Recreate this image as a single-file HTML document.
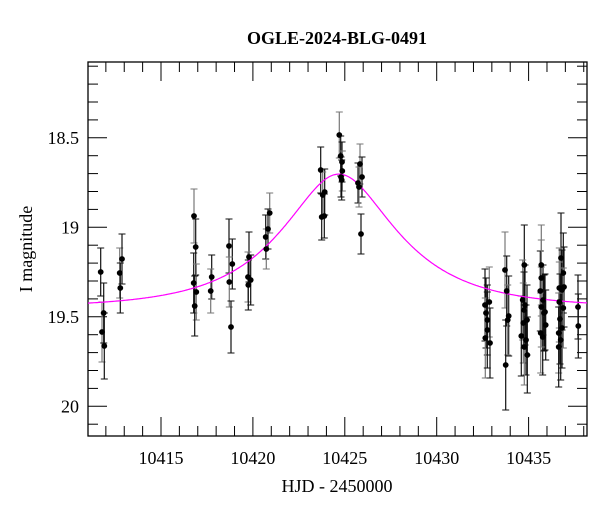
<!DOCTYPE html>
<html><head><meta charset="utf-8"><style>
html,body{margin:0;padding:0;background:#fff;}
svg{display:block;}
text{font-family:"Liberation Serif",serif;fill:#000;}
</style></head><body>
<svg id="s" width="600" height="512" xmlns="http://www.w3.org/2000/svg">
<text x="337" y="44" font-size="18" font-weight="bold" text-anchor="middle">OGLE-2024-BLG-0491</text>
<text x="337" y="492" font-size="18" text-anchor="middle">HJD - 2450000</text>
<text transform="translate(32,249) rotate(-90)" font-size="18" text-anchor="middle">I magnitude</text>
<g id="g"></g>
</svg>
<script>
var g=document.getElementById('g'),L=88,R=587,T=62,B=436;
function X(d){return 161+(d-10415)*18.38;}
function Y(m){return 227.3+(m-19)*179;}
var h='<rect x="'+L+'" y="'+T+'" width="'+(R-L)+'" height="'+(B-T)+'" fill="none" stroke="#000" stroke-width="1.3"/>';
for(var d=10412;d<=10438;d++){var x=X(d),mj=d%5==0,l=mj?19:10;
h+='<line x1="'+x+'" x2="'+x+'" y1="'+B+'" y2="'+(B-l)+'" stroke="#000"/><line x1="'+x+'" x2="'+x+'" y1="'+T+'" y2="'+(T+l)+'" stroke="#000"/>';
if(mj)h+='<text x="'+x+'" y="464" font-size="18" text-anchor="middle">'+d+'</text>';}
for(var i=181;i<=201;i++){var m=i/10,y=Y(m),mj=i%5==0,l=mj?19:10;
h+='<line y1="'+y+'" y2="'+y+'" x1="'+L+'" x2="'+(L+l)+'" stroke="#000"/><line y1="'+y+'" y2="'+y+'" x1="'+R+'" x2="'+(R-l)+'" stroke="#000"/>';
if(mj)h+='<text x="79" y="'+(y+6)+'" font-size="18" text-anchor="end">'+(i%10==0?(i/10):m.toFixed(1))+'</text>';}
var P=[[100.7,272,24],[102,332,30],[103.7,313,30],[104.3,346,33],[119.7,273,25],[120.3,288,25],[122,259,25],
[194,216,27],[195.7,247,28],[193.7,283,30],[196.3,292,28],[194.7,306,30],[211.7,277,22],[210.7,291,22],
[229,246,27],[232.3,264,25],[229.3,282,25],[231,327,26],[249,257,25],[248,277,25],[250.7,280,25],[248.3,285,25],
[269.7,213,20],[268,229,20],[265.7,237,22],[266.3,249,20],[320.7,170,23],[324.7,192,23],[322.7,195,23],[324.3,216,22],[321.7,217,23],
[339.3,135,23],[340.7,156,20],[342,162,20],[342.3,171,20],[341.7,180,20],[341,177,20],[360,164,20],[358,183,20],[362,177,20],[359,187,20],[361,234,20],
[485,305,36],[489.3,302,35],[486,313,35],[487.3,320,35],[485.3,338,40],[490,343,35],[487.3,330,38],
[505,270,38],[506.7,291,35],[508.7,316,40],[507.7,320,35],[505.7,365,45],
[524.3,265,40],[522.7,300,40],[525,305,40],[527,320,35],[523.3,323,40],[521.3,336,40],[526,340,35],[524.3,347,38],[527.3,355,38],[524,310,38],
[541.3,265,40],[540.3,291,40],[543,300,35],[541.3,278,38],[545,312,38],[545.7,325,35],[540.7,333,40],[542.7,337,38],[544,313,38],[541.3,307,40],
[561,258,45],[563.3,273,40],[559.3,288,40],[562,290,40],[564,287,40],[559.3,302,40],[560,319,45],[562,328,40],[558.7,333,40],[560.7,340,40],[558.7,347,40],[563.3,308,40],
[578,307,32],[578.3,326,32]];
P.forEach(function(p,i){var c=i%3==1?'#777':'#111';
h+='<line x1="'+p[0]+'" x2="'+p[0]+'" y1="'+(p[1]-p[2])+'" y2="'+(p[1]+p[2])+'" stroke="'+c+'" stroke-width="1.2"/>';
h+='<line x1="'+(p[0]-3.5)+'" x2="'+(p[0]+3.5)+'" y1="'+(p[1]-p[2])+'" y2="'+(p[1]-p[2])+'" stroke="'+c+'"/><line x1="'+(p[0]-3.5)+'" x2="'+(p[0]+3.5)+'" y1="'+(p[1]+p[2])+'" y2="'+(p[1]+p[2])+'" stroke="'+c+'"/>';});
var pts=[];for(var x=L;x<=R;x+=1){var d=10415+(x-161)/18.38,t=(d-10424.68)/5.5,u=Math.sqrt(0.25+t*t),A=(u*u+2)/(u*Math.sqrt(u*u+4)),F=1+0.837*(A-1);
pts.push(x+','+Y(19.45-2.5*Math.log10(F)).toFixed(1));}
h+='<polyline points="'+pts.join(' ')+'" fill="none" stroke="#f0f" stroke-width="1.2"/>';
P.forEach(function(p){h+='<circle cx="'+p[0]+'" cy="'+p[1]+'" r="2.9" fill="#000"/>';});
g.innerHTML=h;
</script>
</body></html>
